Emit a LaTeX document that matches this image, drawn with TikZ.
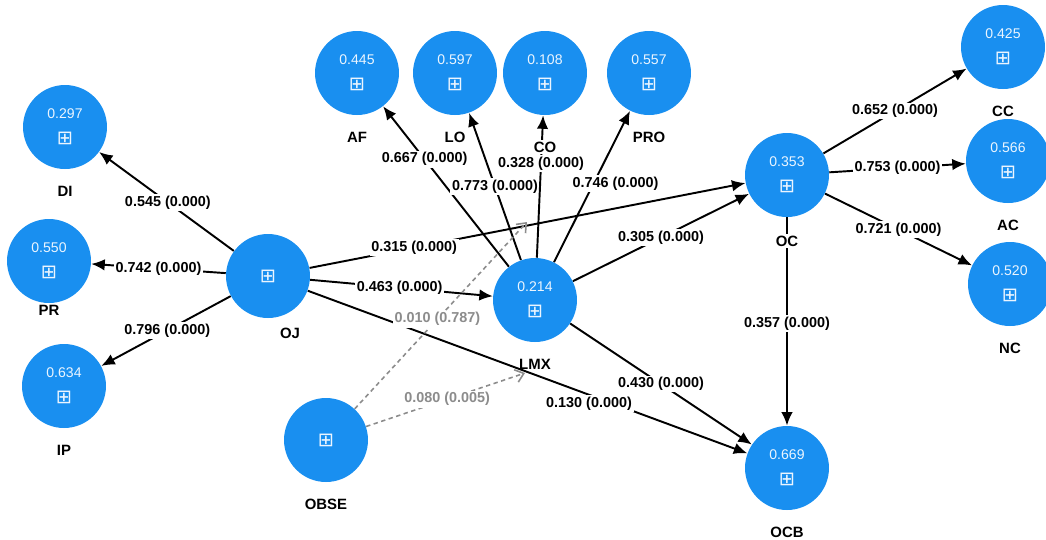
\documentclass[tikz,border=0pt]{standalone}
\usepackage{fontspec}
\setmainfont{Liberation Sans}
\newfontfamily\iconfont{DejaVu Sans}
\usetikzlibrary{arrows.meta,backgrounds}

\newcommand{\plusbox}{{\iconfont\fontsize{11}{15}\selectfont ⊞}}

\begin{document}
\begin{tikzpicture}[x=0.02cm, y=-0.02cm,
	lv/.style={circle, fill={rgb,255:red,25;green,143;blue,240}, minimum size=1.68cm, inner sep=0pt,
		align=center, text={rgb,255:red,235;green,245;blue,255}, font=\fontsize{8}{15}\selectfont},
	lvname/.style={font=\fontsize{8.5}{10}\selectfont\bfseries, text=black, inner sep=0pt,
		text height=6.1pt, text depth=0pt, yshift=-0.33cm},
	lvlink/.style={line width=1.1pt, -{Latex[length=2.7mm,width=2.3mm]}},
	modlink/.style={line width=0.9pt, dash pattern=on 2.5pt off 2pt,
		draw={rgb,255:red,140;green,140;blue,140}, -{Straight Barb[length=1.6mm,width=2.6mm]}},
	coef/.style={font=\fontsize{8.2}{10}\selectfont\bfseries, fill=white, inner sep=1pt},
	modcoef/.style={coef, text={rgb,255:red,140;green,140;blue,140}}]

	\useasboundingbox (0,0) rectangle (1046,539);

	% latent variables
	\node [lv, label={[lvname]below:DI}] (DI) at (65,127) {0.297\\\plusbox};
	\node [lv, label={[lvname,yshift=0.3cm]below:PR}] (PR) at (49,261) {0.550\\\plusbox};
	\node [lv, label={[lvname]below:IP}] (IP) at (64,386) {0.634\\\plusbox};
	\node [lv, label={[lvname,xshift=0.44cm,yshift=0.14cm]below:OJ}] (OJ) at (268,276) {\plusbox};

	\node [lv, label={[lvname]below:AF}] (AF) at (357,73) {0.445\\\plusbox};
	\node [lv, label={[lvname]below:LO}] (LO) at (455,73) {0.597\\\plusbox};
	\node [lv, label={[lvname,yshift=-0.16cm,fill=white,inner sep=1pt]below:CO}] (CO) at (545,73) {0.108\\\plusbox};
	\node [lv, label={[lvname]below:PRO}] (PRO) at (649,73) {0.557\\\plusbox};

	\node [lv, label={[lvname]below:LMX}] (LMX) at (535,300) {0.214\\\plusbox};
	\node [lv, label={[lvname]below:OBSE}] (OBSE) at (326,440) {\plusbox};

	\node [lv, label={[lvname,fill=white,inner sep=1pt]below:OC}] (OC) at (787,175) {0.353\\\plusbox};
	\node [lv, label={[lvname]below:CC}] (CC) at (1003,47) {0.425\\\plusbox};
	\node [lv, label={[lvname]below:AC}] (AC) at (1008,161) {0.566\\\plusbox};
	\node [lv, label={[lvname]below:NC}] (NC) at (1010,284) {0.520\\\plusbox};
	\node [lv, label={[lvname]below:OCB}] (OCB) at (787,468) {0.669\\\plusbox};

	% moderating effects end on the paths
	\coordinate (m1) at (527,222);
	\coordinate (m2) at (525,373);

	\begin{scope}[on background layer]
		\draw [lvlink] (OJ) -- node[coef,pos=0.49]{0.545 (0.000)} (DI);
		\draw [lvlink] (OJ) -- node[coef,pos=0.50]{0.742 (0.000)} (PR);
		\draw [lvlink] (OJ) -- node[coef,pos=0.49]{0.796 (0.000)} (IP);
		\draw [lvlink] (OJ) -- node[coef,pos=0.24]{0.315 (0.000)} (OC);
		\draw [lvlink] (OJ) -- node[coef,pos=0.49]{0.463 (0.000)} (LMX);
		\draw [lvlink] (OJ) -- node[coef,pos=0.64,yshift=-0.18cm]{0.130 (0.000)} (OCB);

		\draw [lvlink] (LMX) -- node[coef,pos=0.67]{0.667 (0.000)} (AF);
		\draw [lvlink] (LMX) -- node[coef,pos=0.50]{0.773 (0.000)} (LO);
		\draw [lvlink] (LMX) -- node[coef,pos=0.66]{0.328 (0.000)} (CO);
		\draw [lvlink] (LMX) -- node[coef,pos=0.52,xshift=0.44cm]{0.746 (0.000)} (PRO);
		\draw [lvlink] (LMX) -- node[coef,pos=0.50]{0.305 (0.000)} (OC);
		\draw [lvlink] (LMX) -- node[coef,pos=0.50]{0.430 (0.000)} (OCB);

		\draw [lvlink] (OC) -- node[coef,pos=0.50]{0.652 (0.000)} (CC);
		\draw [lvlink] (OC) -- node[coef,pos=0.50]{0.753 (0.000)} (AC);
		\draw [lvlink] (OC) -- node[coef,pos=0.50]{0.721 (0.000)} (NC);
		\draw [lvlink] (OC) -- node[coef,pos=0.51]{0.357 (0.000)} (OCB);

		\draw [modlink] (OBSE) -- node[modcoef,pos=0.48]{0.010 (0.787)} (m1);
		\draw [modlink] (OBSE) -- node[modcoef,pos=0.51]{0.080 (0.005)} (m2);
	\end{scope}
\end{tikzpicture}
\end{document}
